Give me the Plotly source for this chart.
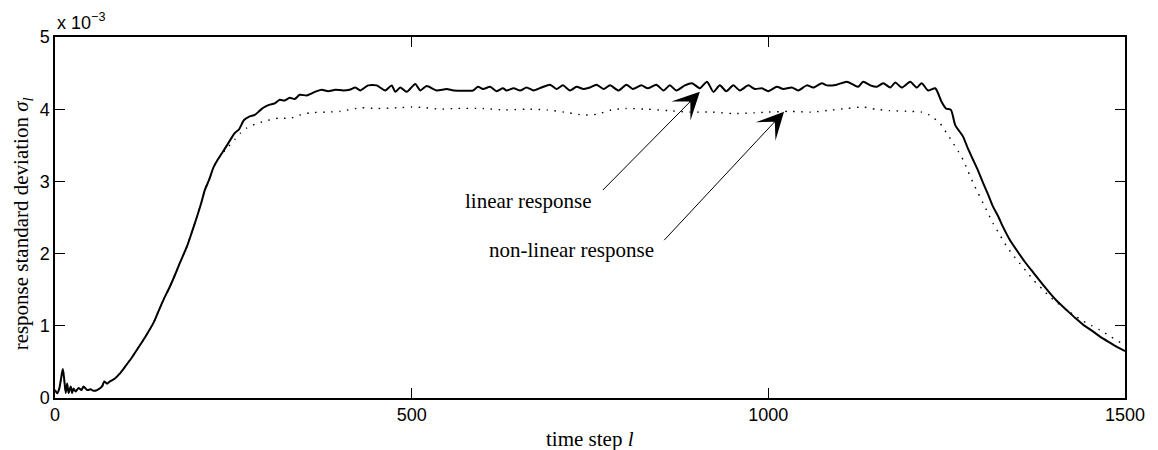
import plotly.graph_objects as go

# time steps and response standard deviation (units of 1e-3)
lin_steps = [0, 3, 6, 9, 11, 13, 15, 17, 19, 22, 24, 26, 29, 33, 37, 40, 45, 50, 54, 59,
             66, 69, 73, 77, 84, 91, 98, 107, 119, 128, 138, 145, 152, 160, 168, 175, 185,
             192, 199, 205, 210, 216, 222, 228, 234, 243, 252, 258, 265, 273, 280, 287, 292,
             300, 308, 315, 322, 329, 336, 343, 353, 360, 367, 374, 383, 393, 404, 413, 421,
             428, 439, 451, 463, 472, 477, 484, 493, 505, 512, 521, 535, 549, 559, 586, 593,
             600, 610, 619, 628, 633, 643, 652, 661, 671, 682, 694, 703, 712, 722, 731, 741,
             750, 759, 769, 778, 790, 801, 810, 822, 831, 843, 853, 862, 871, 883, 893, 904,
             914, 923, 932, 941, 951, 960, 972, 981, 991, 1000, 1012, 1021, 1033, 1042, 1054,
             1063, 1075, 1082, 1096, 1110, 1119, 1126, 1133, 1143, 1152, 1161, 1171, 1178,
             1187, 1199, 1208, 1215, 1224, 1234, 1243, 1249, 1256, 1262, 1273, 1280, 1287,
             1294, 1301, 1308, 1315, 1322, 1329, 1338, 1348, 1360, 1372, 1384, 1395, 1406,
             1418, 1430, 1442, 1454, 1465, 1480, 1490, 1500]
lin_vals = [0.11, 0.065, 0.13, 0.30, 0.40, 0.25, 0.07, 0.20, 0.07, 0.16, 0.07, 0.13, 0.09, 0.14,
            0.11, 0.16, 0.11, 0.12, 0.10, 0.11, 0.16, 0.23, 0.20, 0.23, 0.27, 0.34, 0.43, 0.55,
            0.73, 0.87, 1.04, 1.20, 1.36, 1.52, 1.70, 1.87, 2.10, 2.30, 2.51, 2.70, 2.88, 3.02,
            3.19, 3.30, 3.39, 3.53, 3.67, 3.72, 3.85, 3.90, 3.92, 3.98, 4.02, 4.06, 4.08, 4.13,
            4.12, 4.16, 4.14, 4.20, 4.19, 4.22, 4.25, 4.27, 4.25, 4.27, 4.26, 4.27, 4.30, 4.26,
            4.33, 4.33, 4.26, 4.33, 4.24, 4.30, 4.24, 4.35, 4.26, 4.32, 4.26, 4.28, 4.26, 4.26,
            4.31, 4.28, 4.31, 4.25, 4.29, 4.26, 4.29, 4.26, 4.30, 4.26, 4.30, 4.34, 4.28, 4.33,
            4.26, 4.31, 4.28, 4.30, 4.34, 4.28, 4.33, 4.26, 4.34, 4.28, 4.33, 4.29, 4.34, 4.26,
            4.33, 4.26, 4.33, 4.36, 4.29, 4.38, 4.24, 4.33, 4.25, 4.33, 4.26, 4.33, 4.28, 4.29,
            4.25, 4.31, 4.28, 4.30, 4.26, 4.33, 4.30, 4.36, 4.33, 4.34, 4.38, 4.34, 4.31, 4.38,
            4.33, 4.31, 4.36, 4.30, 4.37, 4.30, 4.38, 4.30, 4.36, 4.26, 4.29, 4.10, 4.01, 3.99,
            3.78, 3.62, 3.45, 3.30, 3.15, 2.98, 2.82, 2.65, 2.52, 2.37, 2.20, 2.05, 1.88, 1.73,
            1.58, 1.45, 1.33, 1.22, 1.11, 1.01, 0.93, 0.85, 0.76, 0.70, 0.65]

nl_steps = [0, 3, 6, 9, 11, 13, 15, 17, 19, 22, 24, 26, 29, 33, 37, 40, 45, 50, 54, 59,
            66, 69, 73, 77, 84, 91, 98, 107, 119, 128, 138, 145, 152, 160, 168, 175, 185,
            192, 199, 205, 210, 216, 222, 228, 234, 243, 252, 260, 269, 280, 292, 305, 315,
            329, 343, 357, 380, 400, 428, 450, 480, 500, 520, 540, 560, 600, 630, 660, 690,
            720, 740, 760, 780, 800, 830, 860, 890, 920, 950, 980, 1000, 1030, 1060, 1090,
            1110, 1133, 1150, 1170, 1200, 1215, 1224, 1231, 1240, 1245, 1252, 1259, 1266,
            1273, 1280, 1287, 1294, 1301, 1308, 1315, 1325, 1334, 1343, 1352, 1362, 1372,
            1384, 1395, 1406, 1418, 1430, 1442, 1454, 1465, 1480, 1495, 1500]
nl_vals = [0.11, 0.065, 0.13, 0.30, 0.40, 0.25, 0.07, 0.20, 0.07, 0.16, 0.07, 0.13, 0.09, 0.14,
           0.11, 0.16, 0.11, 0.12, 0.10, 0.11, 0.16, 0.23, 0.20, 0.23, 0.27, 0.34, 0.43, 0.55,
           0.73, 0.87, 1.04, 1.20, 1.36, 1.52, 1.70, 1.87, 2.10, 2.30, 2.51, 2.70, 2.88, 3.02,
           3.19, 3.30, 3.38, 3.48, 3.58, 3.67, 3.74, 3.79, 3.83, 3.86, 3.88, 3.87, 3.92, 3.95,
           3.96, 3.97, 4.02, 4.01, 4.02, 4.03, 4.02, 4.00, 4.01, 4.01, 3.99, 4.00, 3.99, 3.95,
           3.92, 3.93, 3.99, 4.01, 4.00, 3.98, 3.96, 3.96, 3.94, 3.95, 3.96, 3.97, 3.96, 3.99,
           4.01, 4.03, 4.00, 3.98, 3.97, 3.96, 3.93, 3.88, 3.82, 3.74, 3.64, 3.53, 3.42, 3.30,
           3.14, 2.98, 2.84, 2.70, 2.56, 2.42, 2.25, 2.10, 1.98, 1.87, 1.75, 1.63, 1.51, 1.40,
           1.31, 1.22, 1.14, 1.06, 1.00, 0.94, 0.85, 0.76, 0.73]

x_ticks = [0, 500, 1000, 1500]
y_ticks = [0, 1, 2, 3, 4, 5]

SERIF = "Liberation Serif"
SANS = "Liberation Sans, Arial"

fig = go.Figure()
fig.add_trace(go.Scatter(x=nl_steps, y=nl_vals, mode="lines",
                         line=dict(color="black", width=1.4, dash="1.5px,6.5px",
                                   shape="spline", smoothing=0.6),
                         name="non-linear response", showlegend=False))
fig.add_trace(go.Scatter(x=lin_steps, y=lin_vals, mode="lines",
                         line=dict(color="black", width=2, shape="spline", smoothing=0.6),
                         name="linear response", showlegend=False))

axis_common = dict(showgrid=False, zeroline=False, showline=True, linecolor="black",
                   linewidth=1.5, mirror="ticks", ticks="inside", ticklen=10, tickwidth=1,
                   tickcolor="black", tickfont=dict(family=SANS, size=18, color="black"))

fig.update_xaxes(range=[0, 1500], tickvals=x_ticks, ticktext=[str(v) for v in x_ticks],
                 **axis_common)
fig.update_yaxes(range=[0, 5], tickvals=y_ticks, ticktext=[str(v) for v in y_ticks],
                 **axis_common)

annotations = [
    dict(text="x 10<sup>−3</sup>", xref="paper", yref="paper", x=0.0, y=1.0, yshift=2,
         xanchor="left", yanchor="bottom", showarrow=False,
         font=dict(family=SANS, size=18, color="black")),
    dict(text="time step <i>l</i>", xref="paper", yref="paper", x=0.5, y=-0.114,
         xanchor="center", yanchor="middle", showarrow=False,
         font=dict(family=SERIF, size=21, color="black")),
    dict(text="response standard deviation <i>σ<sub>l</sub></i>", xref="paper", yref="paper",
         x=-0.0305, y=0.482, xanchor="center", yanchor="middle", textangle=-90, showarrow=False,
         font=dict(family=SERIF, size=21, color="black")),
    dict(text="linear response", xref="x", yref="y", x=755, y=2.73, xanchor="right",
         yanchor="middle", showarrow=False, font=dict(family=SERIF, size=21, color="black")),
    dict(text="non-linear response", xref="x", yref="y", x=843, y=2.05, xanchor="right",
         yanchor="middle", showarrow=False, font=dict(family=SERIF, size=21, color="black")),
    dict(text="", xref="x", yref="y", x=904, y=4.24, axref="x", ayref="y", ax=766, ay=2.86,
         showarrow=True, arrowhead=3, arrowsize=4.5, arrowwidth=1, arrowcolor="black",
         standoff=0),
    dict(text="", xref="x", yref="y", x=1022, y=3.965, axref="x", ayref="y", ax=852, ay=2.165,
         showarrow=True, arrowhead=3, arrowsize=4.5, arrowwidth=1, arrowcolor="black",
         standoff=0),
]

fig.update_layout(width=1158, height=450, margin=dict(l=55, r=33, t=37, b=52),
                  plot_bgcolor="white", paper_bgcolor="white", annotations=annotations,
                  showlegend=False)

fig.write_html("out.html")
